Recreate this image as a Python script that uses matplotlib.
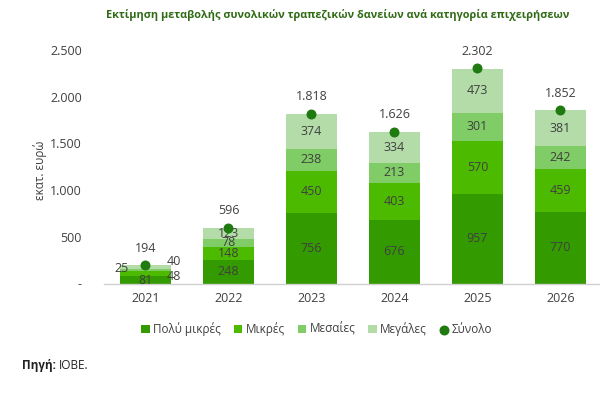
import matplotlib
matplotlib.use("Agg")
import matplotlib.pyplot as plt
import numpy as np

years = ["2021", "2022", "2023", "2024", "2025", "2026"]
very_small = [81, 248, 756, 676, 957, 770]
small = [48, 148, 450, 403, 570, 459]
medium = [25, 78, 238, 213, 301, 242]
large = [40, 123, 374, 334, 473, 381]
total = [194, 596, 1818, 1626, 2302, 1852]
series_names = ["Πολύ μικρές", "Μικρές", "Μεσαίες", "Μεγάλες"]
total_name = "Σύνολο"
yticks = [0, 500, 1000, 1500, 2000, 2500]
ytick_labels = ["-", "500", "1.000", "1.500", "2.000", "2.500"]

colors = ["#339a00", "#4cbb00", "#80cc66", "#b3dca8"]
dot_color = "#1f7a10"
txt = "#404040"
fam = ["Open Sans", "DejaVu Sans"]
plt.rcParams["font.family"] = fam

fig = plt.figure(figsize=(6, 3.93), dpi=100)
ax = fig.add_axes([0.1733, 0.2786, 0.83, 0.5944])

x = np.arange(len(years))
series = [very_small, small, medium, large]
bottom = np.zeros(len(years))
handles = []
for vals, col, name in zip(series, colors, series_names):
    b = ax.bar(x, vals, width=0.62, bottom=bottom, color=col, label=name, zorder=2)
    handles.append(b)
    for i, v in enumerate(vals):
        yc = bottom[i] + v / 2
        if i == 0:
            # tiny segments in 2021: labels offset as in the reference (pixels)
            offs = {"Πολύ μικρές": (0, -1), "Μικρές": (28, -3), "Μεσαίες": (-24, 2), "Μεγάλες": (28, 6)}
            dx, dy = offs[name]
            ax.annotate(f"{v}", (x[i], yc), xytext=(dx * 0.72, dy * 0.72), textcoords="offset points",
                        ha="center", va="center", fontsize=9, color=txt, zorder=4)
        else:
            ax.text(x[i], yc, f"{v}", ha="center", va="center", fontsize=9, color=txt, zorder=4)
    bottom = bottom + np.array(vals)

dots = ax.scatter(x, total, s=38, color=dot_color, zorder=5, label=total_name)
for i, t in enumerate(total):
    ax.annotate(f"{t:,}".replace(",", "."), (x[i], t), xytext=(0, 12.5), textcoords="offset points",
                ha="center", va="center", fontsize=9, color=txt, zorder=4)

ax.set_xlim(-0.5, len(years) - 0.5)
ax.set_ylim(0, 2500)
ax.set_yticks(yticks)
ax.set_yticklabels(ytick_labels)
ax.set_xticks(x)
ax.set_xticklabels(years)
ax.tick_params(axis="y", length=0, pad=16, labelsize=9, labelcolor=txt)
ax.tick_params(axis="x", length=0, pad=6, labelsize=9, labelcolor=txt)
for s in ["top", "right", "left"]:
    ax.spines[s].set_visible(False)
ax.spines["bottom"].set_color("#d0d0d0")
ax.spines["bottom"].set_linewidth(1)
ax.set_zorder(1)

fig.text(0.067, 0.567, "εκατ. ευρώ", rotation=90, ha="center", va="center", fontsize=8.5, color=txt)
fig.text(0.563, 0.962, "Εκτίμηση μεταβολής συνολικών τραπεζικών δανείων ανά κατηγορία επιχειρήσεων",
         ha="center", va="center", fontsize=7.8, fontweight="bold", color="#2e6b14")

leg = fig.legend(handles + [dots], series_names + [total_name], loc="center", bbox_to_anchor=(0.528, 0.163),
                 ncol=5, frameon=False, fontsize=8.5, handlelength=0.7, handleheight=0.7,
                 handletextpad=0.3, columnspacing=1.1, labelcolor=txt)

fig.text(0.037, 0.071, "Πηγή:", ha="left", va="center", fontsize=8.5, fontweight="bold", color="#222222")
fig.text(0.098, 0.071, "ΙΟΒΕ.", ha="left", va="center", fontsize=8.5, color="#222222")

fig.savefig("out.png", dpi=100, facecolor="white")
